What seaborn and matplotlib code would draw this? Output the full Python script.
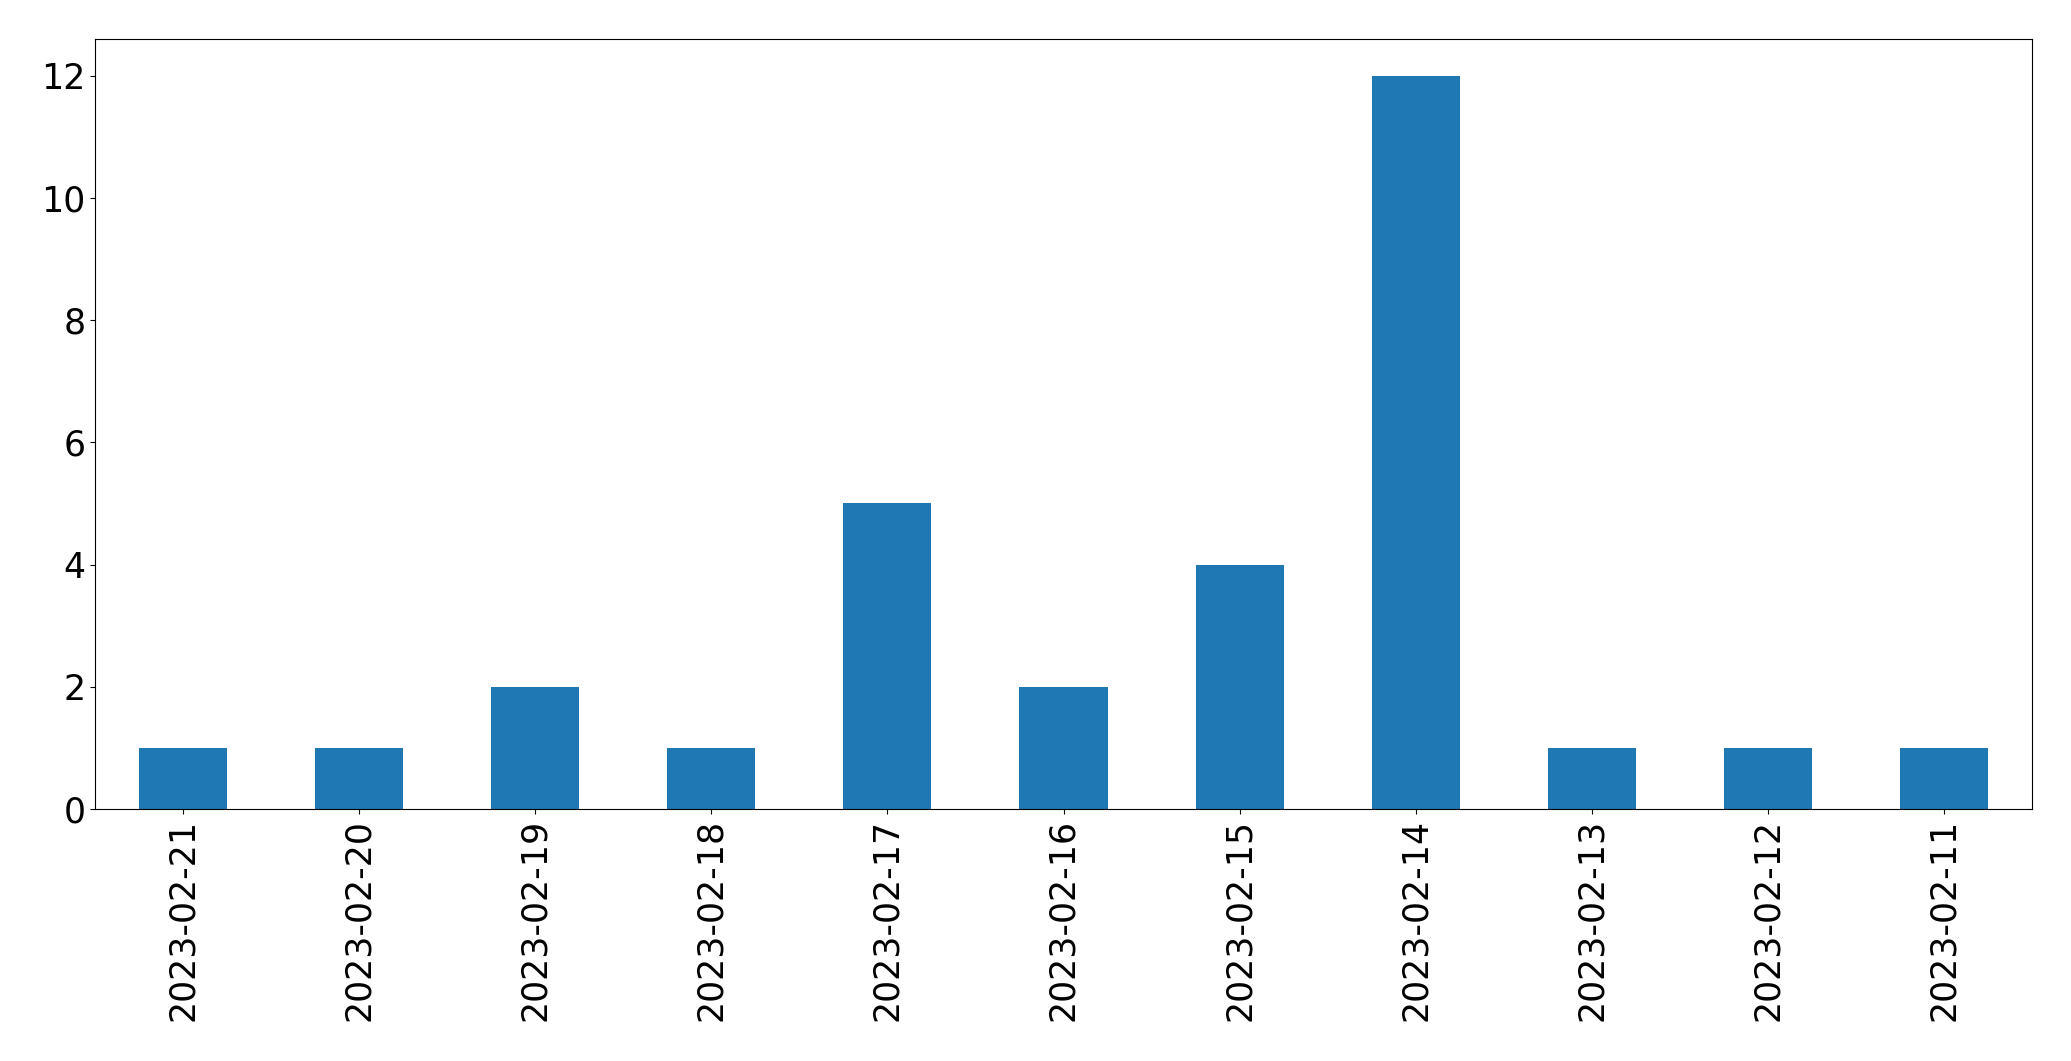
import matplotlib
matplotlib.use("Agg")
import matplotlib.pyplot as plt
import seaborn as sns
import pandas as pd

dates = ["2023-02-21", "2023-02-20", "2023-02-19", "2023-02-18", "2023-02-17",
         "2023-02-16", "2023-02-15", "2023-02-14", "2023-02-13", "2023-02-12",
         "2023-02-11"]
counts = [1, 1, 2, 1, 5, 2, 4, 12, 1, 1, 1]

df = pd.DataFrame({"date": dates, "count": counts})

plt.rcParams['font.family'] = ['DejaVu Sans']
fig = plt.figure(figsize=(20.71, 10.61), dpi=100)
ax = fig.add_axes([95 / 2071, 1 - 809 / 1061, (2032 - 95) / 2071, (809 - 39) / 1061])

sns.barplot(data=df, x="date", y="count", order=dates, color="#1f77b4",
            saturation=1, width=0.5, ax=ax)

ax.set_xlim(-0.5, len(dates) - 0.5)
ax.set_ylim(0, max(counts) * 1.05)
ax.set_yticks([0, 2, 4, 6, 8, 10, 12])
ax.set_xlabel("")
ax.set_ylabel("")
ax.tick_params(axis="both", labelsize=25, length=3.5, width=0.8)
for lbl in ax.get_xticklabels():
    lbl.set_rotation(90)
for s in ax.spines.values():
    s.set_visible(True)
    s.set_linewidth(0.8)
    s.set_color("black")

fig.savefig("out.png", dpi=100)
